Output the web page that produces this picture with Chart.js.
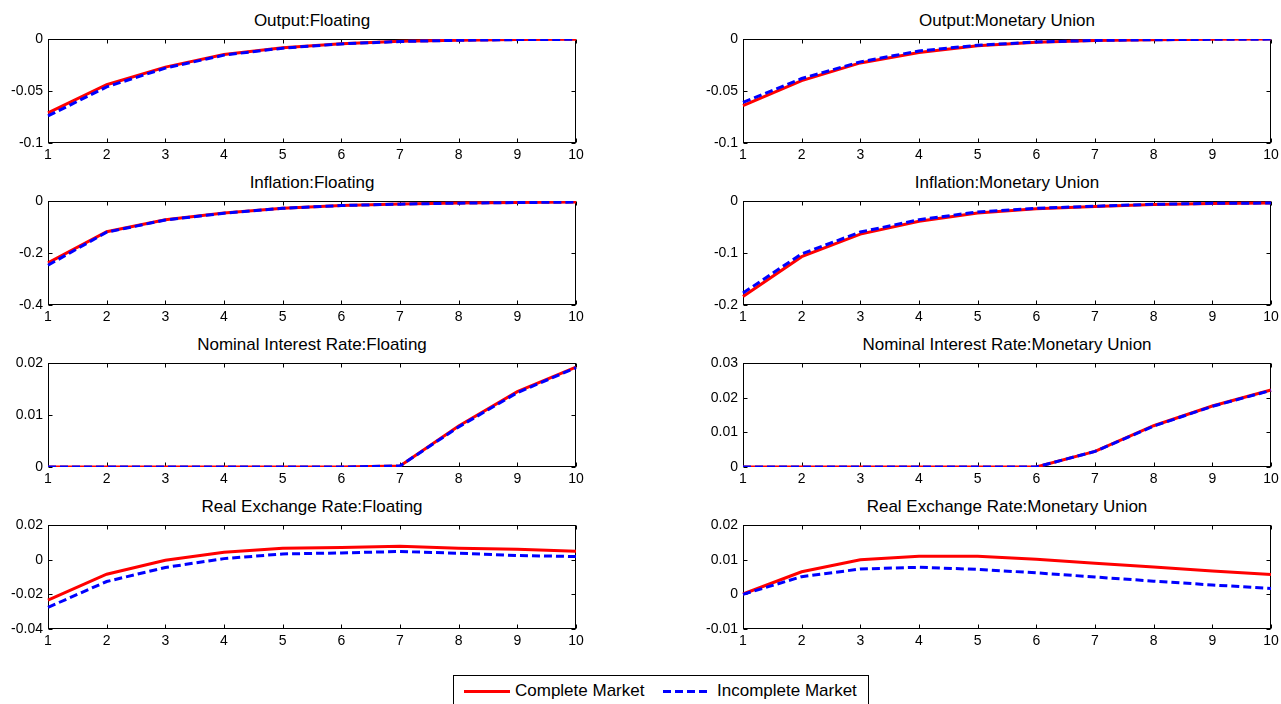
<!DOCTYPE html>
<html>
<head>
<meta charset="utf-8">
<script src="https://cdn.jsdelivr.net/npm/chart.js@4"></script>
<style>
  html, body { margin: 0; padding: 0; background: #fff; overflow: hidden; }
  body { width: 1281px; height: 704px; position: relative; font-family: "Liberation Sans", Arial, Helvetica, sans-serif; }
  canvas { position: absolute; }
  .title { position: absolute; width: 528px; text-align: center; font-size: 17px; line-height: 20px; color: #000; white-space: nowrap; }
  #legend { position: absolute; left: 453px; top: 675px; width: 414px; height: 40px; border: 1px solid #000; background: #fff; }
  #legend .item { position: absolute; font-size: 17px; line-height: 20px; top: 5px; color: #000; white-space: nowrap; }
  #legend .swatch { position: absolute; top: 14px; width: 46px; height: 3px; }
</style>
</head>
<body>
<div id="legend">
  <div class="swatch" style="left:10px; background:#ff0000;"></div>
  <div class="item" style="left:61px;">Complete Market</div>
  <div class="swatch" style="left:209px; background:repeating-linear-gradient(to right, #0000ff 0 8px, transparent 8px 12px);"></div>
  <div class="item" style="left:263px;">Incomplete Market</div>
</div>
<script>
// periods on the x axis
const periods = [1, 2, 3, 4, 5, 6, 7, 8, 9, 10];

// Output
const outputFloatComplete   = [-0.071, -0.044, -0.027, -0.015, -0.0085, -0.0045, -0.0022, -0.0011, -0.0005, -0.0003];
const outputFloatIncomplete = [-0.074, -0.046, -0.028, -0.0155, -0.0088, -0.0047, -0.0024, -0.0012, -0.0006, -0.0003];
const outputMUComplete      = [-0.064, -0.040, -0.023, -0.013, -0.0064, -0.0031, -0.0015, -0.0007, -0.0003, -0.0001];
const outputMUIncomplete    = [-0.061, -0.038, -0.022, -0.0115, -0.006, -0.0029, -0.0014, -0.0007, -0.0003, -0.0001];

// Inflation
const inflFloatComplete   = [-0.238, -0.118, -0.072, -0.046, -0.0275, -0.017, -0.012, -0.008, -0.006, -0.004];
const inflFloatIncomplete = [-0.247, -0.120, -0.073, -0.047, -0.028, -0.0175, -0.0122, -0.0082, -0.006, -0.004];
const inflMUComplete      = [-0.1836, -0.107, -0.0636, -0.039, -0.023, -0.015, -0.0105, -0.0066, -0.0046, -0.004];
const inflMUIncomplete    = [-0.177, -0.1016, -0.0597, -0.036, -0.021, -0.014, -0.010, -0.0064, -0.0045, -0.004];

// Nominal interest rate
const rateFloatComplete   = [0, 0, 0, 0, 0, 0, 0.0002, 0.0079, 0.0145, 0.0192];
const rateFloatIncomplete = [0, 0, 0, 0, 0, 0, 0.0002, 0.0077, 0.0143, 0.0191];
const rateMUComplete      = [0, 0, 0, 0, 0, 0, 0.0045, 0.0119, 0.0176, 0.0222];
const rateMUIncomplete    = [0, 0, 0, 0, 0, 0, 0.0045, 0.0118, 0.0175, 0.0221];

// Real exchange rate
const rerFloatComplete   = [-0.0233, -0.0084, -0.0003, 0.0043, 0.0066, 0.0070, 0.0077, 0.0066, 0.0060, 0.0049];
const rerFloatIncomplete = [-0.0275, -0.0126, -0.0045, 0.0006, 0.0033, 0.0039, 0.0047, 0.0037, 0.0024, 0.0018];
const rerMUComplete      = [0.0001, 0.0065, 0.0100, 0.0110, 0.0110, 0.0101, 0.0090, 0.0079, 0.0067, 0.0057];
const rerMUIncomplete    = [0.0000, 0.0051, 0.0073, 0.0078, 0.0072, 0.0062, 0.0050, 0.0038, 0.0027, 0.0017];

// y tick labels of each panel
const outputTicks    = [-0.1, -0.05, 0];
const inflFloatTicks = [-0.4, -0.2, 0];
const inflMUTicks    = [-0.2, -0.1, 0];
const rateFloatTicks = [0, 0.01, 0.02];
const rateMUTicks    = [0, 0.01, 0.02, 0.03];
const rerFloatTicks  = [-0.04, -0.02, 0, 0.02];
const rerMUTicks     = [-0.01, 0, 0.01, 0.02];

const panels = [
  {title: 'Output:Floating', complete: outputFloatComplete, incomplete: outputFloatIncomplete, ticks: outputTicks, row: 0, col: 0},
  {title: 'Output:Monetary Union', complete: outputMUComplete, incomplete: outputMUIncomplete, ticks: outputTicks, row: 0, col: 1},
  {title: 'Inflation:Floating', complete: inflFloatComplete, incomplete: inflFloatIncomplete, ticks: inflFloatTicks, row: 1, col: 0},
  {title: 'Inflation:Monetary Union', complete: inflMUComplete, incomplete: inflMUIncomplete, ticks: inflMUTicks, row: 1, col: 1},
  {title: 'Nominal Interest Rate:Floating', complete: rateFloatComplete, incomplete: rateFloatIncomplete, ticks: rateFloatTicks, row: 2, col: 0},
  {title: 'Nominal Interest Rate:Monetary Union', complete: rateMUComplete, incomplete: rateMUIncomplete, ticks: rateMUTicks, row: 2, col: 1},
  {title: 'Real Exchange Rate:Floating', complete: rerFloatComplete, incomplete: rerFloatIncomplete, ticks: rerFloatTicks, row: 3, col: 0},
  {title: 'Real Exchange Rate:Monetary Union', complete: rerMUComplete, incomplete: rerMUIncomplete, ticks: rerMUTicks, row: 3, col: 1}
];

// layout of the plot boxes (page pixels)
const plotLefts = [48, 743];
const plotTops = [39, 201, 363, 525];
const plotW = 528, plotH = 104;
const axisW = 48, padTop = 8, padRight = 10, xAxisH = 22;

const font = {family: '"Liberation Sans", Arial, Helvetica, sans-serif', size: 14};

//Box round the axes with small inward ticks, drawn under the lines
const matlabBox = {
  id: 'matlabBox',
  beforeDatasetsDraw(chart) {
    const {ctx, chartArea: a, scales: {x, y}} = chart;
    const L = Math.round(a.left) + 0.5, R = Math.round(a.right) - 0.5;
    const T = Math.round(a.top) + 0.5, B = Math.round(a.bottom) - 0.5;
    ctx.save();
    ctx.strokeStyle = '#000';
    ctx.lineWidth = 1;
    ctx.strokeRect(L, T, R - L, B - T);
    ctx.beginPath();
    x.ticks.forEach((t, i) => {
      const px = Math.round(x.getPixelForTick(i)) + 0.5;
      ctx.moveTo(px, B); ctx.lineTo(px, B - 4);
      ctx.moveTo(px, T); ctx.lineTo(px, T + 4);
    });
    y.ticks.forEach(t => {
      const py = Math.round(y.getPixelForValue(t.value)) + 0.5;
      ctx.moveTo(L, py); ctx.lineTo(L + 4, py);
      ctx.moveTo(R, py); ctx.lineTo(R - 4, py);
    });
    ctx.stroke();
    ctx.restore();
  }
};

panels.forEach(p => {
  const left = plotLefts[p.col], top = plotTops[p.row];

  const title = document.createElement('div');
  title.className = 'title';
  title.style.left = left + 'px';
  title.style.top = (top - 28) + 'px';
  title.textContent = p.title;
  document.body.appendChild(title);

  const canvas = document.createElement('canvas');
  const w = axisW + plotW + padRight, h = padTop + plotH + xAxisH;
  canvas.width = w;
  canvas.height = h;
  canvas.style.left = (left - axisW) + 'px';
  canvas.style.top = (top - padTop) + 'px';
  document.body.appendChild(canvas);

  new Chart(canvas, {
    type: 'line',
    data: {
      labels: periods,
      datasets: [
        {label: 'Complete Market', data: p.complete, borderColor: '#ff0000', borderWidth: 3, pointRadius: 0, tension: 0, fill: false, order: 2},
        {label: 'Incomplete Market', data: p.incomplete, borderColor: '#0000ff', borderWidth: 3, borderDash: [8, 4], pointRadius: 0, tension: 0, fill: false, order: 1}
      ]
    },
    options: {
      responsive: false,
      animation: false,
      devicePixelRatio: 1,
      layout: {padding: {top: padTop, right: padRight, left: 0, bottom: 0}},
      plugins: {legend: {display: false}, tooltip: {enabled: false}},
      scales: {
        x: {
          type: 'category',
          offset: false,
          grid: {display: false, drawTicks: false},
          border: {display: false},
          ticks: {padding: 4, font: font, color: '#000', maxRotation: 0, autoSkip: false},
          afterFit(s) { s.height = xAxisH; s.paddingLeft = 0; s.paddingRight = 0; }
        },
        y: {
          min: p.ticks[0],
          max: p.ticks[p.ticks.length - 1],
          grid: {display: false, drawTicks: false},
          border: {display: false},
          ticks: {padding: 5, font: font, color: '#000', callback: v => String(+Number(v).toFixed(6))},
          afterBuildTicks(s) { s.ticks = p.ticks.map(v => ({value: v})); },
          afterFit(s) { s.width = axisW; s.paddingTop = 0; s.paddingBottom = 0; }
        }
      }
    },
    plugins: [matlabBox]
  });
});
</script>
</body>
</html>
